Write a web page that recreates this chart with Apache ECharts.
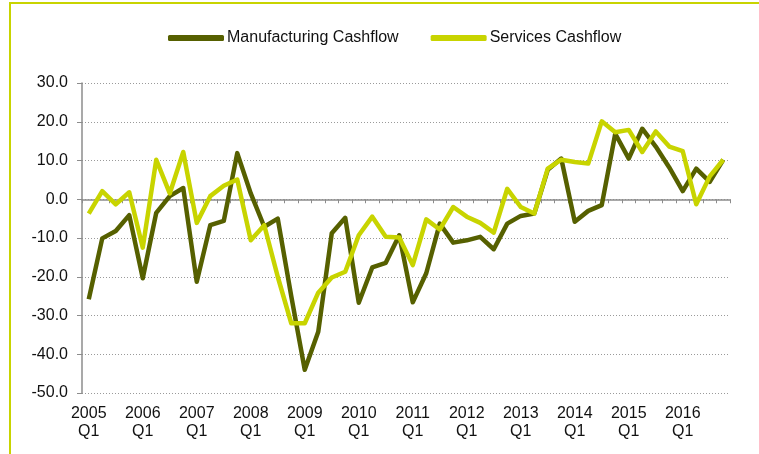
<!DOCTYPE html>
<html>
<head>
<meta charset="utf-8">
<script src="https://cdn.jsdelivr.net/npm/echarts@6/dist/echarts.min.js"></script>
<style>
  html, body { margin: 0; padding: 0; overflow: hidden; background: #fff; }
  #frame { position: absolute; left: 9px; top: 2px; width: 800px; height: 500px; border: 2px solid #c8d400; }
  #main { position: absolute; left: 0; top: 0; width: 759px; height: 454px; }
</style>
</head>
<body>
<div id="frame"></div>
<div id="main"></div>
<script>
// quarters 2005 Q1 .. 2016 Q4
const years = [2005, 2006, 2007, 2008, 2009, 2010, 2011, 2012, 2013, 2014, 2015, 2016];
const quarters = [];
years.forEach(y => { for (let q = 1; q <= 4; q++) quarters.push(y + ' Q' + q); });

const manufacturing = [-25.8, -10.1, -8.2, -4.1, -20.4, -3.5, 0.8, 2.9, -21.3, -6.7, -5.6, 11.9,
  1.5, -7.1, -5.0, -25.0, -44.0, -34.2, -8.8, -4.8, -26.7, -17.6, -16.4, -9.3,
  -26.6, -19.1, -6.3, -11.2, -10.6, -9.7, -12.9, -6.3, -4.3, -3.7, 7.6, 10.5,
  -5.8, -3.0, -1.5, 16.9, 10.5, 18.2, 13.6, 8.2, 2.1, 7.9, 4.5, 10.2];
const services = [-3.7, 2.1, -1.3, 1.8, -12.5, 10.2, 1.5, 12.2, -6.1, 0.8, 3.5, 5.1,
  -10.6, -6.7, -20.0, -32.0, -32.0, -24.1, -20.2, -18.7, -9.3, -4.5, -9.7, -9.9,
  -17.0, -5.2, -7.8, -2.0, -4.5, -6.1, -8.6, 2.7, -2.0, -3.7, 7.9, 10.2,
  9.6, 9.2, 20.1, 17.3, 17.9, 12.2, 17.5, 13.6, 12.4, -1.3, 5.9, 10.2];

const darkGreen = '#566000';
const lightGreen = '#c8d400';
const font = 'Liberation Sans, Arial, sans-serif';

const chart = echarts.init(document.getElementById('main'));
const option = {
  animation: false,
  textStyle: { fontFamily: font },
  legend: {
    top: 25,
    left: 163,
    itemWidth: 56,
    itemHeight: 6,
    itemGap: 32,
    icon: 'roundRect',
    textStyle: { fontSize: 16, color: '#111', fontFamily: font, padding: [0, 0, 0, -2] },
    data: ['Manufacturing Cashflow', 'Services Cashflow']
  },
  grid: { left: 82, right: 29, top: 83, bottom: 61 },
  xAxis: [
    {
      // zero line with ticks
      type: 'category',
      data: quarters,
      boundaryGap: true,
      axisLine: { onZero: true, lineStyle: { color: '#8c8c8c', width: 1.5 } },
      axisTick: { show: true, interval: 0, inside: false, length: 4, lineStyle: { color: '#8c8c8c' } },
      axisLabel: { show: false },
      splitLine: { show: false }
    },
    {
      // labels along the bottom
      type: 'category',
      data: quarters,
      boundaryGap: true,
      position: 'bottom',
      axisLine: { show: false, onZero: false },
      axisTick: { show: false },
      splitLine: { show: false },
      axisLabel: {
        interval: 3,
        margin: 12,
        fontSize: 16,
        lineHeight: 18,
        color: '#111',
        fontFamily: font,
        formatter: v => v.replace(' ', '\n')
      }
    }
  ],
  yAxis: {
    type: 'value',
    min: -50,
    max: 30,
    interval: 10,
    axisLine: { show: true, lineStyle: { color: '#8c8c8c', width: 1.5 } },
    axisTick: { show: true, length: 5, lineStyle: { color: '#8c8c8c' } },
    axisLabel: { fontSize: 16, color: '#111', margin: 14, fontFamily: font, formatter: v => v.toFixed(1) },
    splitLine: { show: true, lineStyle: { color: '#9a9a9a', type: [1, 2], width: 1 } }
  },
  series: [
    {
      name: 'Manufacturing Cashflow',
      type: 'line',
      data: manufacturing,
      symbol: 'none',
      itemStyle: { color: darkGreen },
      lineStyle: { color: darkGreen, width: 4.5, join: 'round' }
    },
    {
      name: 'Services Cashflow',
      type: 'line',
      data: services,
      symbol: 'none',
      itemStyle: { color: lightGreen },
      lineStyle: { color: lightGreen, width: 4.5, join: 'round' }
    }
  ]
};
chart.setOption(option);
</script>
</body>
</html>
